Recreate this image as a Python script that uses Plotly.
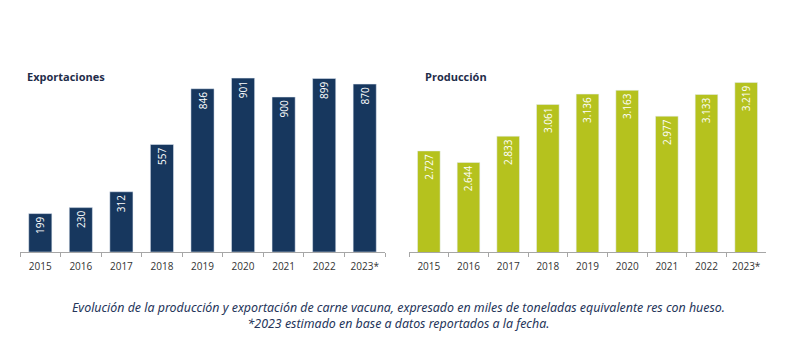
import plotly.graph_objects as go

years = ["2015", "2016", "2017", "2018", "2019", "2020", "2021", "2022", "2023*"]
# bar heights as drawn in the picture (2021 bar is drawn shorter than its label)
exportaciones = [199, 230, 312, 557, 846, 901, 803, 899, 870]
# printed value labels
exportaciones_etiquetas = ["199", "230", "312", "557", "846", "901", "900", "899", "870"]
produccion = [2727, 2644, 2833, 3061, 3136, 3163, 2977, 3133, 3219]

W, H = 798, 353
NAVY = "#17375e"
GREEN = "#b5c21e"

fig = go.Figure()
fig.add_trace(go.Bar(x=years, y=exportaciones, marker_color=NAVY, xaxis="x", yaxis="y",
                     text=exportaciones_etiquetas, texttemplate="%{text}", textposition="inside",
                     insidetextanchor="end", textangle=-90,
                     textfont=dict(color="white", size=10, family="Open Sans"),
                     hoverinfo="skip", showlegend=False))
fig.add_trace(go.Bar(x=years, y=produccion, marker_color=GREEN, xaxis="x2", yaxis="y2",
                     texttemplate="%{y:,}", textposition="inside",
                     insidetextanchor="end", textangle=-90,
                     textfont=dict(color="white", size=10, family="Open Sans"),
                     hoverinfo="skip", showlegend=False))

ydom = [1 - 252 / H, 1 - 59 / H]
axis_common = dict(type="category", showline=True, linecolor="#a6a6a6", linewidth=1,
                   ticks="outside", tickson="boundaries", ticklen=4, tickcolor="#a6a6a6",
                   ticklabelstandoff=5,
                   tickfont=dict(size=10, color="#333333", family="Open Sans"),
                   showgrid=False, zeroline=False, fixedrange=True)
yax_common = dict(visible=False, showgrid=False, zeroline=False, domain=ydom, fixedrange=True)

fig.update_layout(
    width=W, height=H, margin=dict(l=0, r=0, t=0, b=0),
    paper_bgcolor="white", plot_bgcolor="white",
    separators=",.", bargap=0.43,
    xaxis=dict(domain=[20 / W, 385 / W], anchor="y", **axis_common),
    yaxis=dict(range=[0, 1000], anchor="x", **yax_common),
    xaxis2=dict(domain=[409 / W, 766 / W], anchor="y2", **axis_common),
    yaxis2=dict(range=[2000, 2000 + 193 / 0.139], anchor="x2", **yax_common),
)

fig.add_annotation(x=25 / W, y=1 - 77 / H, xref="paper", yref="paper", xanchor="left", yanchor="middle",
                   text="<b>Exportaciones</b>", showarrow=False,
                   font=dict(size=11, color="#1f2d4a", family="Open Sans"))
fig.add_annotation(x=423 / W, y=1 - 76 / H, xref="paper", yref="paper", xanchor="left", yanchor="middle",
                   text="<b>Producción</b>", showarrow=False,
                   font=dict(size=11, color="#1f2d4a", family="Open Sans"))
fig.add_annotation(x=398 / W, y=1 - 315 / H, xref="paper", yref="paper", xanchor="center", yanchor="middle",
                   text="<i>Evolución de la producción y exportación de carne vacuna, expresado en miles de toneladas equivalente res con hueso.</i><br><i>*2023 estimado en base a datos reportados a la fecha.</i>",
                   showarrow=False, align="center",
                   font=dict(size=12.4, color="#25355a", family="Noto Sans"))

fig.write_html("out.html")
